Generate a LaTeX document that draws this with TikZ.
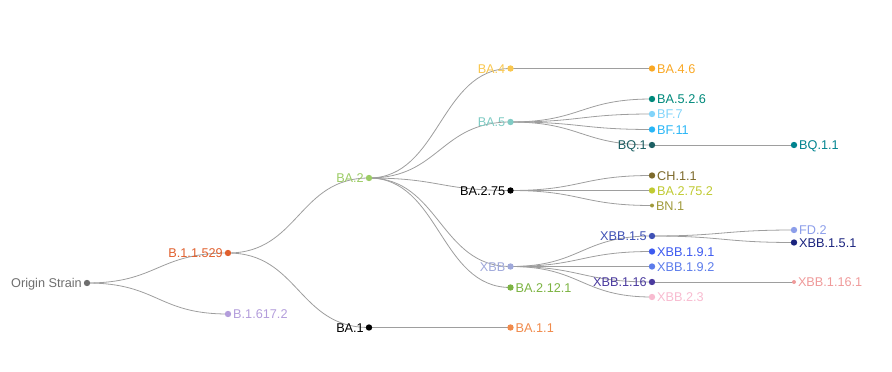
\documentclass[tikz,border=0pt]{standalone}
\usepackage{fontspec}
\setmainfont{Liberation Sans}
\usetikzlibrary{backgrounds}
\definecolor{linkgray}{HTML}{9E9E9E}
\definecolor{cOrig}{HTML}{6E6E6E}
\definecolor{cBoneA}{HTML}{E0602E}
\definecolor{cDelta}{HTML}{B39DDB}
\definecolor{cBAtwo}{HTML}{9CCC65}
\definecolor{cBAfour}{HTML}{F9C74F}
\definecolor{cBAfive}{HTML}{80CBC4}
\definecolor{cXBB}{HTML}{9FA8DA}
\definecolor{cBAtwelve}{HTML}{7CB342}
\definecolor{cBAoneone}{HTML}{F08A4B}
\definecolor{cBAfoursix}{HTML}{F9A825}
\definecolor{cBAfivetwo}{HTML}{00897B}
\definecolor{cBFseven}{HTML}{81D4FA}
\definecolor{cBFeleven}{HTML}{29B6F6}
\definecolor{cBQone}{HTML}{1D5F63}
\definecolor{cBQoneone}{HTML}{00838F}
\definecolor{cCH}{HTML}{7D6A2B}
\definecolor{cBAsevfive}{HTML}{C0CA33}
\definecolor{cBN}{HTML}{A09A3C}
\definecolor{cXBBfive}{HTML}{3F51B5}
\definecolor{cXBBnineone}{HTML}{3D5AF0}
\definecolor{cXBBninetwo}{HTML}{5C7CEB}
\definecolor{cXBBsixteen}{HTML}{4A3A9E}
\definecolor{cXBBtwothree}{HTML}{F8BBD0}
\definecolor{cFD}{HTML}{8C9EEA}
\definecolor{cXBBfiveone}{HTML}{1A237E}
\definecolor{cXBBsixone}{HTML}{EF9A9A}
\tikzset{
  dot/.style={circle,inner sep=0pt,minimum size=6.4pt},
  small/.style={minimum size=4pt},
  lbl/.style={font=\fontsize{12.7}{15}\selectfont,inner sep=0pt,text height=9.1pt,text depth=0pt},
  link/.style={draw=linkgray,line width=0.8pt}
}
\begin{document}
\begin{tikzpicture}[x=1pt,y=-1pt,label distance=1.6pt]
\useasboundingbox (0,0) rectangle (892,372);
% level 0 and 1
\node[dot,fill=cOrig,label={[lbl,text=cOrig]left:Origin Strain}] (org) at (87,283) {};
\node[dot,fill=cBoneA,label={[lbl,text=cBoneA]left:B.1.1.529}] (b11529) at (228,253) {};
\node[dot,fill=cDelta,label={[lbl,text=cDelta]right:B.1.617.2}] (b16172) at (228,314) {};
% level 2
\node[dot,fill=cBAtwo,label={[lbl,text=cBAtwo]left:BA.2}] (ba2) at (369,178) {};
\node[dot,fill=black,label={[lbl,text=black]left:BA.1}] (ba1) at (369,327.5) {};
% level 3
\node[dot,fill=cBAfour,label={[lbl,text=cBAfour]left:BA.4}] (ba4) at (510.5,68.5) {};
\node[dot,fill=cBAfive,label={[lbl,text=cBAfive]left:BA.5}] (ba5) at (510.5,122) {};
\node[dot,fill=black,label={[lbl,text=black]left:BA.2.75}] (ba275) at (510.5,190.5) {};
\node[dot,fill=cXBB,label={[lbl,text=cXBB]left:XBB}] (xbb) at (510.5,266.5) {};
\node[dot,fill=cBAtwelve,label={[lbl,text=cBAtwelve]right:BA.2.12.1}] (ba2121) at (510.5,287.5) {};
\node[dot,fill=cBAoneone,label={[lbl,text=cBAoneone]right:BA.1.1}] (ba11) at (510.5,327.5) {};
% level 4
\node[dot,fill=cBAfoursix,label={[lbl,text=cBAfoursix]right:BA.4.6}] (ba46) at (652,68.5) {};
\node[dot,fill=cBAfivetwo,label={[lbl,text=cBAfivetwo]right:BA.5.2.6}] (ba526) at (652,99) {};
\node[dot,fill=cBFseven,label={[lbl,text=cBFseven]right:BF.7}] (bf7) at (652,114) {};
\node[dot,fill=cBFeleven,label={[lbl,text=cBFeleven]right:BF.11}] (bf11) at (652,129.5) {};
\node[dot,fill=cBQone,label={[lbl,text=cBQone]left:BQ.1}] (bq1) at (652,145) {};
\node[dot,fill=cCH,label={[lbl,text=cCH]right:CH.1.1}] (ch11) at (652,175.5) {};
\node[dot,fill=cBAsevfive,label={[lbl,text=cBAsevfive]right:BA.2.75.2}] (ba2752) at (652,190.5) {};
\node[dot,small,fill=cBN,label={[lbl,text=cBN]right:BN.1}] (bn1) at (652,205.5) {};
\node[dot,fill=cXBBfive,label={[lbl,text=cXBBfive]left:XBB.1.5}] (xbb15) at (652,236) {};
\node[dot,fill=cXBBnineone,label={[lbl,text=cXBBnineone]right:XBB.1.9.1}] (xbb191) at (652,251.5) {};
\node[dot,fill=cXBBninetwo,label={[lbl,text=cXBBninetwo]right:XBB.1.9.2}] (xbb192) at (652,266.5) {};
\node[dot,fill=cXBBsixteen,label={[lbl,text=cXBBsixteen]left:XBB.1.16}] (xbb116) at (652,282) {};
\node[dot,fill=cXBBtwothree,label={[lbl,text=cXBBtwothree]right:XBB.2.3}] (xbb23) at (652,297) {};
% level 5
\node[dot,fill=cFD,label={[lbl,text=cFD]right:FD.2}] (fd2) at (794,230) {};
\node[dot,fill=cXBBfiveone,label={[lbl,text=cXBBfiveone]right:XBB.1.5.1}] (xbb151) at (794,242.5) {};
\node[dot,fill=cBQoneone,label={[lbl,text=cBQoneone]right:BQ.1.1}] (bq11) at (794,145) {};
\node[dot,small,fill=cXBBsixone,label={[lbl,text=cXBBsixone]right:XBB.1.16.1}] (xbb1161) at (794,282) {};
% links
\begin{scope}[on background layer]
\foreach \a/\b in {org/b11529,org/b16172,b11529/ba2,b11529/ba1,ba1/ba11,
  ba2/ba4,ba2/ba5,ba2/ba275,ba2/xbb,ba2/ba2121,ba4/ba46,
  ba5/ba526,ba5/bf7,ba5/bf11,ba5/bq1,bq1/bq11,
  ba275/ch11,ba275/ba2752,ba275/bn1,
  xbb/xbb15,xbb/xbb191,xbb/xbb192,xbb/xbb116,xbb/xbb23,
  xbb15/fd2,xbb15/xbb151,xbb116/xbb1161}
  \draw[link] (\a.center) .. controls +(70.7,0) and +(-70.7,0) .. (\b.center);
\end{scope}
\end{tikzpicture}
\end{document}
